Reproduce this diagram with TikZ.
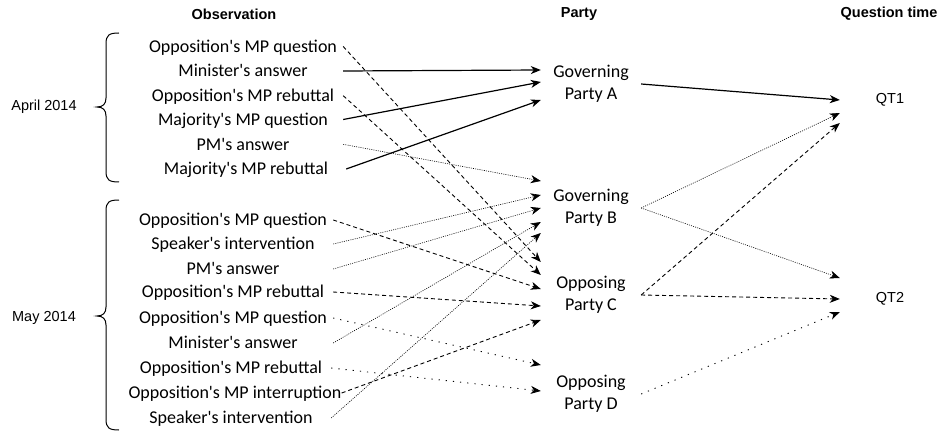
\documentclass[tikz,border=0pt]{standalone}
\usetikzlibrary{arrows.meta, positioning}
\usepackage{fontspec}
\setmainfont{Carlito}[Ligatures=TeXOff]
\newfontfamily\arialfont{Liberation Sans}
\def\obswidth{200pt}
\def\colwidth{100pt}

\begin{document}
\begin{tikzpicture}[x=1pt,y=-1pt,>={Stealth[length=10pt,width=8pt,inset=3pt]}]
    \tikzstyle{item}=[minimum width=\obswidth, inner sep=0pt, text height=12.5pt, text depth=1pt, font=\fontsize{18}{22}\selectfont]
    \tikzstyle{party}=[minimum width=\colwidth, inner sep=0pt, align=center, font=\fontsize{18}{22}\selectfont]
    \tikzstyle{qt}=[minimum width=\colwidth, inner sep=0pt, font=\arialfont\fontsize{14.5}{17}\selectfont]
    \tikzstyle{header}=[inner sep=0pt, font=\arialfont\bfseries\fontsize{14.5}{17}\selectfont]
    \tikzstyle{period}=[inner sep=0pt, font=\arialfont\fontsize{14.5}{17}\selectfont]
    \tikzstyle{brace line}=[line width=1pt]
    \tikzstyle{solid link}=[->, line width=1.2pt]
    \tikzstyle{dash link}=[->, line width=0.9pt, dash pattern=on 4pt off 3pt]
    \tikzstyle{dot link}=[->, line width=0.6pt, dash pattern=on 1pt off 1.2pt]
    \tikzstyle{sparse link}=[->, line width=0.9pt, dash pattern=on 1.2pt off 6pt]

    \useasboundingbox (0,0) rectangle (940,433);

    \node[header] (h-obs) at (234,14) {Observation};
    \node[header] (h-party) at (579,14) {Party};
    \node[header] (h-qt) at (889,14) {Question time};

    \node[period] (april) at (44,107) {April 2014};
    \node[period] (may) at (44,318) {May 2014};

    % braces
    \draw[brace line] (119,33) .. controls (109,33) and (106,35) .. (106,44) -- (106,98)
        .. controls (106,104) and (103,107) .. (97,107)
        .. controls (103,107) and (106,110) .. (106,116) -- (106,171)
        .. controls (106,180) and (109,182) .. (119,182);
    \draw[brace line] (119,200) .. controls (109,200) and (106,202) .. (106,211) -- (106,307)
        .. controls (106,313) and (103,316) .. (97,316)
        .. controls (103,316) and (106,319) .. (106,325) -- (106,419)
        .. controls (106,428) and (109,430) .. (119,430);

    % observations
    \node[item] (a-1) at (243,46.5) {Opposition's MP question};
    \node[item] (a-2) at (243,71) {Minister's answer};
    \node[item] (a-3) at (243,95.7) {Opposition's MP rebuttal};
    \node[item] (a-4) at (243,119.5) {Majority's MP question};
    \node[item] (a-5) at (243,144.3) {PM's answer};
    \node[item] (a-6) at (246,169) {Majority's MP rebuttal};

    \node[item] (m-1) at (233,220) {Opposition's MP question};
    \node[item] (m-2) at (233,244) {Speaker's intervention};
    \node[item] (m-3) at (233,269) {PM's answer};
    \node[item] (m-4) at (233,292) {Opposition's MP rebuttal};
    \node[item] (m-5) at (233,318) {Opposition's MP question};
    \node[item] (m-6) at (233,343) {Minister's answer};
    \node[item] (m-7) at (231,368) {Opposition's MP rebuttal};
    \node[item] (m-8) at (235,393) {Opposition's MP interruption};
    \node[item] (m-9) at (231,418) {Speaker's intervention};

    % parties
    \node[party] (A) at (591,84) {Governing\\Party A};
    \node[party] (B) at (591,208) {Governing\\Party B};
    \node[party] (C) at (591,295) {Opposing\\Party C};
    \node[party] (D) at (591,394) {Opposing\\Party D};

    \node[qt] (QT1) at (890,100) {QT1};
    \node[qt] (QT2) at (890,299) {QT2};

    \foreach \p/\dy in {1/-14,2/-2,3/16}
        \coordinate (A-\p) at ([shift={(0,\dy)}]A.west);
    \foreach \p/\dy in {1/-27,2/-13,3/0,4/14,5/25}
        \coordinate (B-\p) at ([shift={(0,\dy)}]B.west);
    \foreach \p/\dy in {1/-33,2/-20,3/-6,4/11,5/25}
        \coordinate (C-\p) at ([shift={(0,\dy)}]C.west);
    \foreach \p/\dy in {1/-29,2/-3}
        \coordinate (D-\p) at ([shift={(0,\dy)}]D.west);
    \foreach \p/\dy in {1/0,2/13,3/23}
        \coordinate (QT1-\p) at ([shift={(0,\dy)}]QT1.west);
    \foreach \p/\dy in {1/-21,2/0,3/13}
        \coordinate (QT2-\p) at ([shift={(0,\dy)}]QT2.west);

    \draw[dash link] (a-1.east) -- (C-1);
    \draw[solid link] (a-2.east) -- (A-1);
    \draw[dash link] (a-3.east) -- (C-2);
    \draw[solid link] (a-4.east) -- (A-2);
    \draw[dot link] (a-5.east) -- (B-1);
    \draw[solid link] (a-6.east) -- (A-3);

    \draw[dash link] (m-1.east) -- (C-3);
    \draw[dot link] (m-2.east) -- (B-2);
    \draw[dot link] (m-3.east) -- (B-3);
    \draw[dash link] (m-4.east) -- (C-4);
    \draw[sparse link] (m-5.east) -- (D-1);
    \draw[dot link] (m-6.east) -- (B-4);
    \draw[sparse link] (m-7.east) -- (D-2);
    \draw[dash link] (m-8.east) -- (C-5);
    \draw[dot link] (m-9.east) -- (B-5);

    \draw[solid link] (A.east) -- (QT1-1);
    \draw[dot link] (B.east) -- (QT1-2);
    \draw[dot link] (B.east) -- (QT2-1);
    \draw[dash link] (C.east) -- (QT1-3);
    \draw[dash link] (C.east) -- (QT2-2);
    \draw[sparse link] (D.east) -- (QT2-3);
\end{tikzpicture}
\end{document}
